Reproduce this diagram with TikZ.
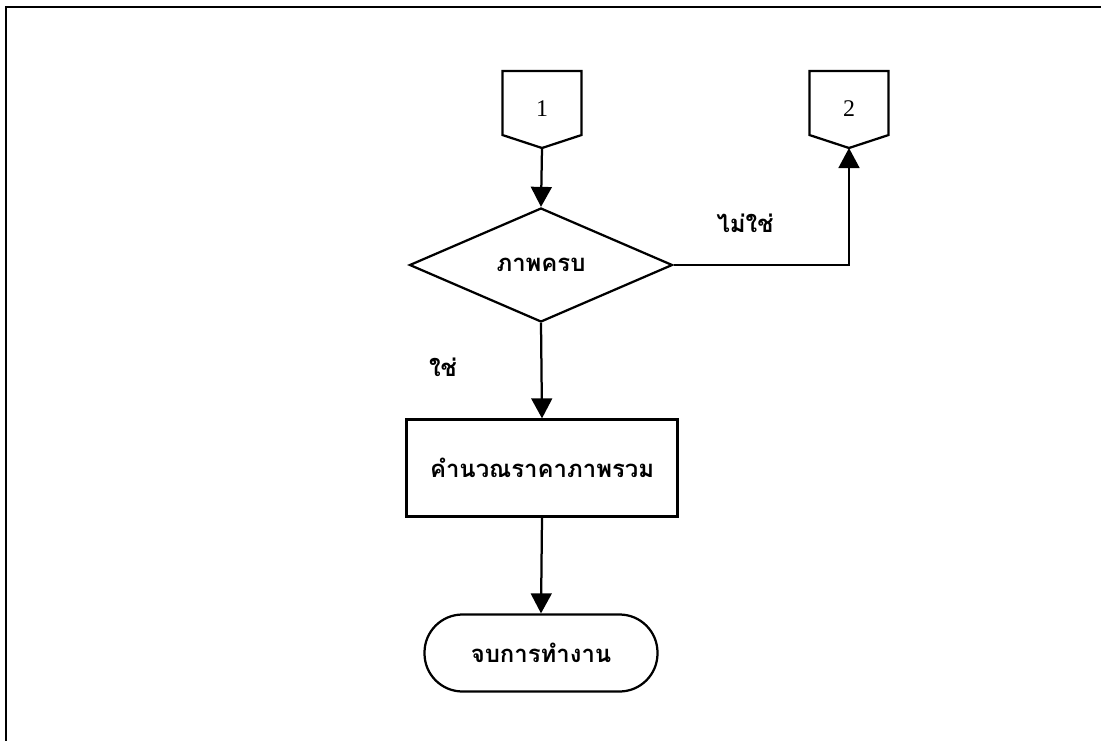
\documentclass[tikz,border=0pt]{standalone}
\usepackage{fontspec}
\setmainfont{Liberation Serif}
\newfontfamily\thaifont[Script=Thai]{Loma}
\usetikzlibrary{shapes.geometric,arrows.meta,positioning,calc}

\tikzset{
    flowline/.style={line width=1.6pt, -{Triangle[length=0.5cm, width=0.52cm]}},
    thaitext/.style={font=\thaifont\bfseries\fontsize{17}{20}\selectfont},
    offpage/.pic={
        \draw[line width=1.6pt] (-0.99,0.8) -- (0.99,0.8) -- (0.99,-0.8) -- (0,-1.125) -- (-0.99,-0.8) -- cycle;
        \coordinate (-tip) at (0,-1.125);
    }
}

\begin{document}
\begin{tikzpicture}
    \useasboundingbox (0,0) rectangle (27.525,-18.525);
    % Frame
    \draw[line width=1.6pt] (0.15,-18.525) -- (0.15,-0.175) -- (27.525,-0.175);

    % Off-page connectors
    \pic (con1) at (13.55,-2.575) {offpage};
    \node[font=\fontsize{17}{19}\selectfont] (con1-lbl) at (13.55,-2.72) {1};
    \pic (con2) at (21.225,-2.575) {offpage};
    \node[font=\fontsize{17}{19}\selectfont] (con2-lbl) at (21.225,-2.72) {2};

    % Decision
    \node[draw, diamond, aspect=2.3, line width=1.6pt, inner sep=0pt, minimum width=6.575cm, minimum height=2.85cm, thaitext] (complete) at (13.525,-6.625) {ภาพครบ};

    % Process
    \node[draw, rectangle, line width=1.6pt, minimum width=6.775cm, minimum height=2.425cm, thaitext] (calc) at (13.55,-11.7) {คำนวณราคาภาพรวม};

    % Terminal
    \node[draw, rectangle, rounded corners=0.95cm, line width=1.6pt, minimum width=5.825cm, minimum height=1.925cm, thaitext] (finish) at (13.525,-16.325) {จบการทำงาน};

    % Labels
    \node[thaitext] (no-lbl) at (18.625,-5.575) {ไม่ใช่};
    \node[thaitext] (yes-lbl) at (11.075,-9.175) {ใช่};

    % Flow
    \draw[flowline] (con1-tip) -- (complete.north);
    \draw[flowline] (complete.east) -| (con2-tip);
    \draw[flowline] (complete.south) -- (calc.north);
    \draw[flowline] (calc.south) -- (finish.north);
\end{tikzpicture}
\end{document}
